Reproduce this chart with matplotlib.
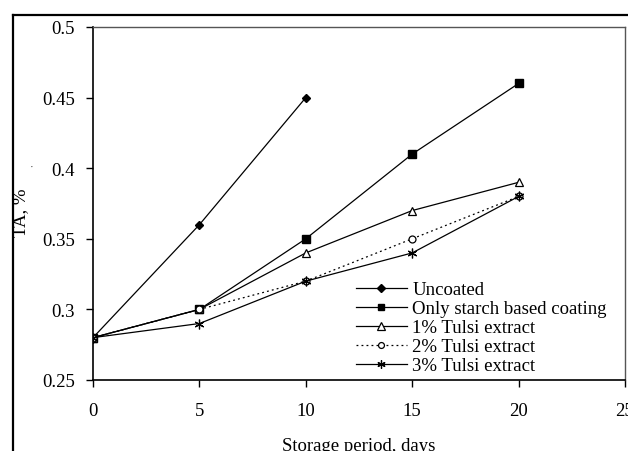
import matplotlib.pyplot as plt
from matplotlib.lines import Line2D

plt.rcParams['font.family'] = ['Liberation Serif', 'DejaVu Serif']

days = [0, 5, 10, 15, 20]
uncoated = [0.28, 0.36, 0.45]
starch = [0.28, 0.30, 0.35, 0.41, 0.46]
tulsi1 = [0.28, 0.30, 0.34, 0.37, 0.39]
tulsi2 = [0.28, 0.30, 0.32, 0.35, 0.38]
tulsi3 = [0.28, 0.29, 0.32, 0.34, 0.38]

xticks = [0, 5, 10, 15, 20, 25]
yticks = [0.25, 0.3, 0.35, 0.4, 0.45, 0.5]
ytick_labels = ["0.25", "0.3", "0.35", "0.4", "0.45", "0.5"]

fig = plt.figure(figsize=(6.28, 4.52), dpi=100)
ax = fig.add_axes([93 / 628, 1 - 381 / 452, 532 / 628, 353 / 452])

lw = 0.9
ax.plot(days[:3], uncoated, color="black", lw=lw, marker="D", ms=4.5,
        label="Uncoated")
ax.plot(days, starch, color="black", lw=lw, marker="s", ms=5.5,
        label="Only starch based coating")
ax.plot(days, tulsi1, color="black", lw=lw, marker="^", ms=6,
        mfc="white", mec="black", mew=0.9, label="1% Tulsi extract")
ax.plot(days, tulsi2, color="black", lw=lw, ls=(0, (1.5, 2.5)), marker="o",
        ms=5, mfc="white", mec="black", mew=0.9, label="2% Tulsi extract")
ax.plot(days, tulsi3, color="black", lw=lw, marker=(6, 2, 0), ms=7,
        mew=0.9, label="3% Tulsi extract")

ax.set_xlim(0, 25)
ax.set_ylim(0.25, 0.5)
ax.set_xticks(xticks)
ax.set_yticks(yticks)
ax.set_yticklabels(ytick_labels)
ax.tick_params(direction="out", length=5, width=1, labelsize=13.5,
               colors="black")
ax.tick_params(axis="x", pad=11)
ax.tick_params(axis="y", pad=8)
for side in ["left", "bottom"]:
    ax.spines[side].set_color("black")
    ax.spines[side].set_linewidth(1.2)
for side in ["top", "right"]:
    ax.spines[side].set_color("#555555")
    ax.spines[side].set_linewidth(1.0)

ax.legend(loc="upper left", bbox_to_anchor=(356 / 628, 1 - 282 / 452),
          bbox_transform=fig.transFigure, frameon=False, fontsize=13.5,
          borderpad=0, borderaxespad=0, handlelength=2.7, handletextpad=0.3,
          labelspacing=0.1, markerscale=0.85)

fig.text(359 / 628, 1 - 447 / 452, "Storage period, days", fontsize=13.5,
         ha="center", va="center")
fig.text(21 / 628, 1 - 213 / 452, "TA, %", fontsize=13.5, rotation=90,
         ha="center", va="center")
fig.text(32 / 628, 1 - 167 / 452, "\u00b7", fontsize=8, ha="center",
         va="center", color="#444444")

# outer frame of the pasted chart
fig.add_artist(Line2D([12.5 / 628, 12.5 / 628], [0, 1 - 16 / 452],
                      transform=fig.transFigure, color="black", lw=1.6))
fig.add_artist(Line2D([12.5 / 628, 1], [1 - 16 / 452, 1 - 16 / 452],
                      transform=fig.transFigure, color="black", lw=1.6))

fig.savefig("out.png", dpi=100)
